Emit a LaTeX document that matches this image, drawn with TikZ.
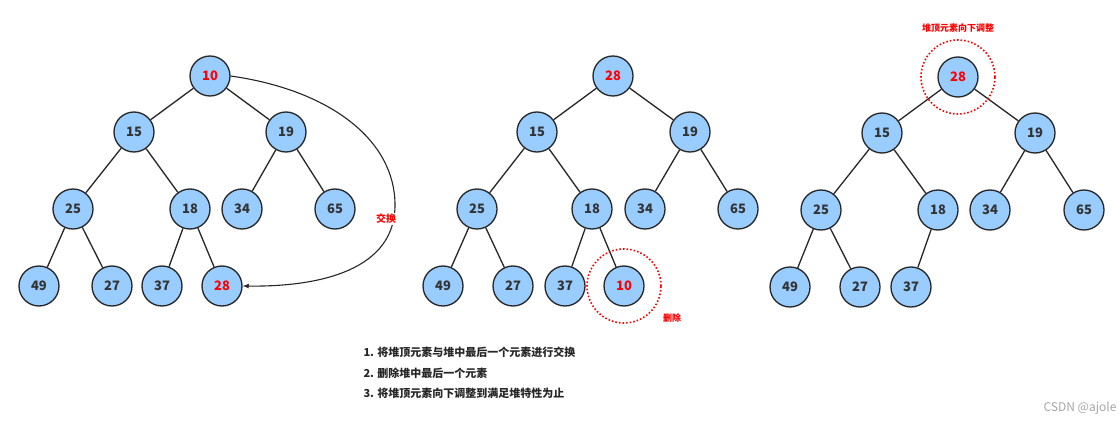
\documentclass[tikz,border=0pt]{standalone}
\usepackage{fontspec}
\setmainfont{Noto Sans CJK SC}
\newfontfamily\cjk{Noto Sans CJK SC}
\begin{document}
\begin{tikzpicture}[x=1pt,y=-1pt,
  hn/.style={circle,draw=black!85,line width=1.3pt,fill={rgb,255:red,153;green,204;blue,255},minimum size=40pt,inner sep=0pt,font=\bfseries\fontsize{13}{13}\selectfont,text=black!80},
  rn/.style={hn,text=red},
  ed/.style={draw=black!85,line width=1.3pt},
  dot/.style={draw=red,dotted,line width=1.6pt,circle,minimum size=74pt,inner sep=0pt},
  rl/.style={text=red,font=\bfseries\fontsize{10}{10}\selectfont}]
\useasboundingbox (0,0) rectangle (1120,428);
\fill[white] (0,0) rectangle (1120,428);
% tree 1
\node[rn] (a1) at (210,76) {10};
\node[hn] (a2) at (134,132) {15};
\node[hn] (a3) at (286,132) {19};
\node[hn] (a4) at (73,209) {25};
\node[hn] (a5) at (190,209) {18};
\node[hn] (a6) at (242,209) {34};
\node[hn] (a7) at (335,209) {65};
\node[hn] (a8) at (39,286) {49};
\node[hn] (a9) at (112,286) {27};
\node[hn] (a10) at (162,286) {37};
\node[rn] (a11) at (222,286) {28};
\draw[ed] (a1)--(a2) (a1)--(a3) (a2)--(a4) (a2)--(a5) (a3)--(a6) (a3)--(a7) (a4)--(a8) (a4)--(a9) (a5)--(a10) (a5)--(a11);
\draw[ed,line width=1.1pt,-latex] (a1.east) .. controls (330,90) and (395,140) .. (395,205) coordinate (m) .. controls (395,270) and (320,287) .. (a11.east);
\node[rl,fill=white,inner sep=1pt] (sw) at (386,219) {交换};
% tree 2
\node[rn] (b1) at (613,76) {28};
\node[hn] (b2) at (537,132) {15};
\node[hn] (b3) at (690,132) {19};
\node[hn] (b4) at (477,209) {25};
\node[hn] (b5) at (592,209) {18};
\node[hn] (b6) at (645,209) {34};
\node[hn] (b7) at (738,209) {65};
\node[hn] (b8) at (443,286) {49};
\node[hn] (b9) at (513,286) {27};
\node[hn] (b10) at (565,286) {37};
\node[rn] (b11) at (624,286) {10};
\draw[ed] (b1)--(b2) (b1)--(b3) (b2)--(b4) (b2)--(b5) (b3)--(b6) (b3)--(b7) (b4)--(b8) (b4)--(b9) (b5)--(b10) (b5)--(b11);
\node[dot] (bd) at (624,286) {};
\node[rl,font=\bfseries\fontsize{9}{9}\selectfont] (del) at (672,318) {删除};
% tree 3
\node[rn] (c1) at (958,77) {28};
\node[hn] (c2) at (882,133) {15};
\node[hn] (c3) at (1035,133) {19};
\node[hn] (c4) at (821,210) {25};
\node[hn] (c5) at (938,210) {18};
\node[hn] (c6) at (990,210) {34};
\node[hn] (c7) at (1084,210) {65};
\node[hn] (c8) at (790,287) {49};
\node[hn] (c9) at (860,287) {27};
\node[hn] (c10) at (911,287) {37};
\draw[ed] (c1)--(c2) (c1)--(c3) (c2)--(c4) (c2)--(c5) (c3)--(c6) (c3)--(c7) (c4)--(c8) (c4)--(c9) (c5)--(c10);
\node[dot] (cd) at (958,77) {};
\node[rl,font=\bfseries\fontsize{9}{9}\selectfont] (adj) at (958,28) {堆顶元素向下调整};
% text
\node[anchor=west,align=left,font=\bfseries\fontsize{11}{20.5}\selectfont,text=black!85] (txt) at (360,373) {1. 将堆顶元素与堆中最后一个元素进行交换\\2. 删除堆中最后一个元素\\3. 将堆顶元素向下调整到满足堆特性为止};
\node[anchor=east,text=black!35,font=\fontsize{12}{12}\selectfont] (wm) at (1120,408) {CSDN @ajole};
\end{tikzpicture}
\end{document}
